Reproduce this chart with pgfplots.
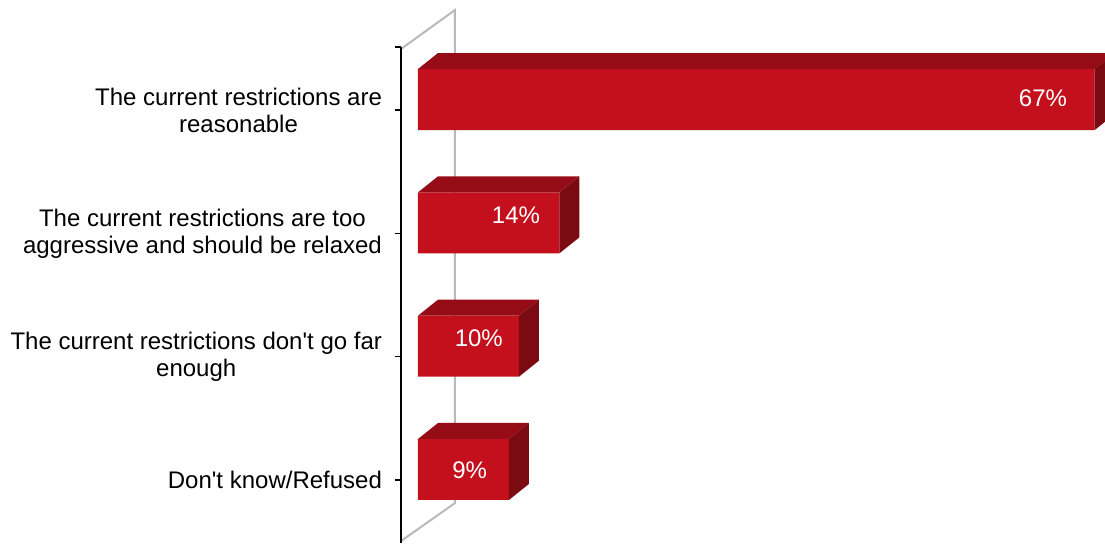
\documentclass[border=0pt]{standalone}
\usepackage{pgfplots}
\pgfplotsset{compat=1.18}
\usepackage{fontspec}
\setmainfont{Liberation Sans}
\definecolor{frontc}{RGB}{196,15,28}
\definecolor{topc}{RGB}{150,12,22}
\definecolor{sidec}{RGB}{123,10,18}
\definecolor{wallc}{RGB}{185,185,185}
\begin{document}
\begin{tikzpicture}
\path[use as bounding box] (0,0) rectangle (552.5pt,271.5pt);
\begin{axis}[
  at={(200.5pt,0pt)}, anchor=south west,
  scale only axis, width=352pt, height=271.5pt,
  xmin=-1.683, xmax=68.02, ymin=-0.892, ymax=3.511, y dir=reverse,
  hide x axis, axis y line*=left, y axis line style={draw=none},
  ytick={0,1,2,3},
  yticklabels={{The current restrictions are\\reasonable},
               {The current restrictions are too\\aggressive and should be relaxed},
               {The current restrictions don\textquotesingle t go far\\enough},
               {Don\textquotesingle t know/Refused}},
  extra y ticks={-0.511}, extra y tick labels={}, extra y tick style={grid=none},
  tick align=outside, major tick length=3pt,
  tick style={black, line width=0.75pt},
  yticklabel style={align=center, font=\fontsize{12}{13.5}\selectfont, text=black, xshift=-3pt},
  clip=false,
]
% back wall / floor outline
\draw[wallc, line width=1pt] (axis cs:-1.683,-0.495) -- (axis cs:3.663,-0.811) -- (axis cs:3.663,3.187) -- (axis cs:-1.683,3.495);
\draw[black, line width=0.75pt] (axis cs:-1.683,-0.511) -- (axis cs:-1.683,3.511);
% front faces
\addplot[xbar, bar width=0.4946, bar shift=-0.0851, fill=frontc, draw=none]
  coordinates {(67,0) (14,1) (10,2) (9,3)};
% top faces
\addplot[fill=topc, draw=none] coordinates {(0,-0.3324) (67,-0.3324) (68.98,-0.4622) (1.98,-0.4622)} --cycle;
\addplot[fill=topc, draw=none] coordinates {(0,0.6676) (14,0.6676) (15.98,0.5378) (1.98,0.5378)} --cycle;
\addplot[fill=topc, draw=none] coordinates {(0,1.6676) (10,1.6676) (11.98,1.5378) (1.98,1.5378)} --cycle;
\addplot[fill=topc, draw=none] coordinates {(0,2.6676) (9,2.6676) (10.98,2.5378) (1.98,2.5378)} --cycle;
% side faces
\addplot[fill=sidec, draw=none] coordinates {(67,-0.3324) (68.98,-0.4622) (68.98,0.0325) (67,0.1622)} --cycle;
\addplot[fill=sidec, draw=none] coordinates {(14,0.6676) (15.98,0.5378) (15.98,1.0325) (14,1.1622)} --cycle;
\addplot[fill=sidec, draw=none] coordinates {(10,1.6676) (11.98,1.5378) (11.98,2.0325) (10,2.1622)} --cycle;
\addplot[fill=sidec, draw=none] coordinates {(9,2.6676) (10.98,2.5378) (10.98,3.0325) (9,3.1622)} --cycle;
% value labels
\addplot[draw=none, mark=none, nodes near coords={\pgfplotspointmeta\%}, point meta=explicit symbolic,
  nodes near coords style={anchor=center, text=white, inner sep=0pt, font=\fontsize{12}{13.5}\selectfont}]
  table[meta=lab] {
x y lab
61.88 -0.097 67
9.70 0.851 14
6.02 1.849 10
5.12 2.919 9
};
\end{axis}
\end{tikzpicture}
\end{document}
